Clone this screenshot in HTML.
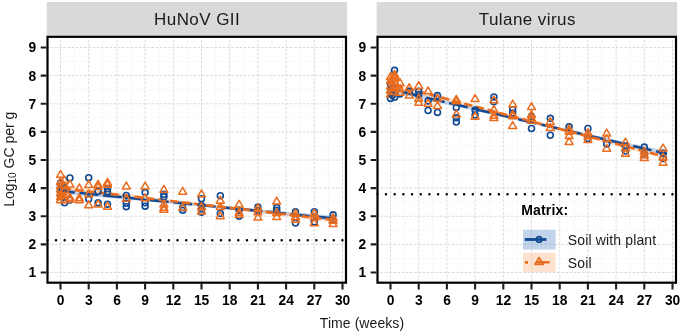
<!DOCTYPE html><html><head><meta charset="utf-8"><style>html,body{margin:0;padding:0;background:#fff;}svg{display:block;will-change:transform;} text{font-family:"Liberation Sans",sans-serif;}</style></head><body>
<svg width="685" height="333" viewBox="0 0 685 333">
<rect x="0" y="0" width="685" height="333" fill="#fff"/>
<rect x="46.70" y="2.0" width="300.40" height="33.70" fill="#D9D9D9"/>
<text x="154.10" y="24.8" font-size="17" letter-spacing="0.42" fill="#1A1A1A">HuNoV GII</text>
<rect x="46.40" y="35.70" width="300.70" height="248.10" fill="#fff"/>
<clipPath id="cp0"><rect x="46.40" y="35.70" width="300.70" height="248.10"/></clipPath>
<g clip-path="url(#cp0)">
<path d="M74.60 35.70V283.80M102.80 35.70V283.80M131.00 35.70V283.80M159.20 35.70V283.80M187.40 35.70V283.80M215.60 35.70V283.80M243.80 35.70V283.80M272.00 35.70V283.80M300.20 35.70V283.80M328.40 35.70V283.80M46.40 258.44H347.10M46.40 230.31H347.10M46.40 202.19H347.10M46.40 174.06H347.10M46.40 145.94H347.10M46.40 117.81H347.10M46.40 89.69H347.10M46.40 61.56H347.10" stroke="#F4F4F4" stroke-width="0.9" stroke-dasharray="2.6 1.6" fill="none"/>
<path d="M60.50 35.70V283.80M88.70 35.70V283.80M116.90 35.70V283.80M145.10 35.70V283.80M173.30 35.70V283.80M201.50 35.70V283.80M229.70 35.70V283.80M257.90 35.70V283.80M286.10 35.70V283.80M314.30 35.70V283.80M342.50 35.70V283.80M46.40 272.50H347.10M46.40 244.38H347.10M46.40 216.25H347.10M46.40 188.12H347.10M46.40 160.00H347.10M46.40 131.88H347.10M46.40 103.75H347.10M46.40 75.62H347.10M46.40 47.50H347.10" stroke="#DADADA" stroke-width="1" stroke-dasharray="2.6 1.6" fill="none"/>
<path d="M46.40 240.20H347.10" stroke="#000" stroke-width="2.5" stroke-dasharray="0 8.68" stroke-dashoffset="7.76" stroke-linecap="round" fill="none"/>
<path d="M60.50 188.02L69.68 189.13L78.86 190.23L88.04 191.32L97.22 192.39L106.40 193.45L115.58 194.50L124.76 195.53L133.95 196.55L143.13 197.56L152.31 198.56L161.49 199.55L170.67 200.52L179.85 201.48L189.03 202.43L198.21 203.36L207.39 204.29L216.57 205.20L225.75 206.10L234.93 206.98L244.11 207.85L253.29 208.72L262.47 209.56L271.66 210.40L280.84 211.22L290.02 212.03L299.20 212.83L308.38 213.62L317.56 214.39L326.74 215.15L335.92 215.90L335.92 221.50L326.74 220.41L317.56 219.32L308.38 218.25L299.20 217.19L290.02 216.15L280.84 215.11L271.66 214.09L262.47 213.08L253.29 212.08L244.11 211.10L234.93 210.13L225.75 209.17L216.57 208.22L207.39 207.29L198.21 206.36L189.03 205.45L179.85 204.56L170.67 203.67L161.49 202.80L152.31 201.94L143.13 201.09L133.95 200.26L124.76 199.43L115.58 198.62L106.40 197.83L97.22 197.04L88.04 196.27L78.86 195.51L69.68 194.76L60.50 194.02Z" fill="rgba(120,160,210,0.45)"/>
<path d="M60.50 185.19L69.68 186.45L78.86 187.69L88.04 188.91L97.22 190.13L106.40 191.33L115.58 192.52L124.76 193.70L133.95 194.86L143.13 196.01L152.31 197.15L161.49 198.28L170.67 199.40L179.85 200.50L189.03 201.59L198.21 202.67L207.39 203.73L216.57 204.79L225.75 205.83L234.93 206.86L244.11 207.87L253.29 208.87L262.47 209.86L271.66 210.84L280.84 211.81L290.02 212.76L299.20 213.70L308.38 214.63L317.56 215.55L326.74 216.45L335.92 217.34L335.92 222.94L326.74 221.70L317.56 220.48L308.38 219.26L299.20 218.06L290.02 216.87L280.84 215.70L271.66 214.53L262.47 213.38L253.29 212.24L244.11 211.12L234.93 210.00L225.75 208.90L216.57 207.81L207.39 206.73L198.21 205.67L189.03 204.62L179.85 203.58L170.67 202.55L161.49 201.53L152.31 200.53L143.13 199.54L133.95 198.57L124.76 197.60L115.58 196.65L106.40 195.71L97.22 194.78L88.04 193.86L78.86 192.96L69.68 192.07L60.50 191.19Z" fill="rgba(250,190,150,0.45)"/>
<path d="M60.50 191.02L335.92 218.70" stroke="#114A93" stroke-width="2.6" stroke-dasharray="16.7 6.9" stroke-dashoffset="3.5" stroke-linecap="round" fill="none"/>
<path d="M60.50 188.19L335.92 220.14" stroke="#EA6C1E" stroke-width="2.6" stroke-dasharray="6 6" stroke-dashoffset="8.5" stroke-linecap="round" fill="none"/>
<circle cx="60.50" cy="183.06" r="2.95" stroke="#114A93" stroke-width="1.6" fill="none"/>
<circle cx="60.50" cy="186.72" r="2.95" stroke="#114A93" stroke-width="1.6" fill="none"/>
<circle cx="60.50" cy="190.38" r="2.95" stroke="#114A93" stroke-width="1.6" fill="none"/>
<circle cx="60.50" cy="195.16" r="2.95" stroke="#114A93" stroke-width="1.6" fill="none"/>
<path d="M60.50 170.47L64.47 177.36L56.53 177.36Z" stroke="#EA6C1E" stroke-width="1.5" fill="none" stroke-linejoin="round"/>
<path d="M60.50 177.51L64.47 184.39L56.53 184.39Z" stroke="#EA6C1E" stroke-width="1.5" fill="none" stroke-linejoin="round"/>
<path d="M60.50 181.72L64.47 188.61L56.53 188.61Z" stroke="#EA6C1E" stroke-width="1.5" fill="none" stroke-linejoin="round"/>
<path d="M60.50 185.10L64.47 191.98L56.53 191.98Z" stroke="#EA6C1E" stroke-width="1.5" fill="none" stroke-linejoin="round"/>
<path d="M60.50 188.76L64.47 195.64L56.53 195.64Z" stroke="#EA6C1E" stroke-width="1.5" fill="none" stroke-linejoin="round"/>
<path d="M60.50 192.97L64.47 199.86L56.53 199.86Z" stroke="#EA6C1E" stroke-width="1.5" fill="none" stroke-linejoin="round"/>
<path d="M60.50 195.79L64.47 202.67L56.53 202.67Z" stroke="#EA6C1E" stroke-width="1.5" fill="none" stroke-linejoin="round"/>
<circle cx="62.38" cy="189.53" r="2.95" stroke="#114A93" stroke-width="1.6" fill="none"/>
<path d="M62.38 180.32L66.35 187.20L58.41 187.20Z" stroke="#EA6C1E" stroke-width="1.5" fill="none" stroke-linejoin="round"/>
<path d="M62.38 187.35L66.35 194.23L58.41 194.23Z" stroke="#EA6C1E" stroke-width="1.5" fill="none" stroke-linejoin="round"/>
<path d="M62.38 191.57L66.35 198.45L58.41 198.45Z" stroke="#EA6C1E" stroke-width="1.5" fill="none" stroke-linejoin="round"/>
<circle cx="64.54" cy="188.12" r="2.95" stroke="#114A93" stroke-width="1.6" fill="none"/>
<circle cx="64.54" cy="202.75" r="2.95" stroke="#114A93" stroke-width="1.6" fill="none"/>
<path d="M64.54 176.10L68.52 182.98L60.57 182.98Z" stroke="#EA6C1E" stroke-width="1.5" fill="none" stroke-linejoin="round"/>
<path d="M64.54 181.72L68.52 188.61L60.57 188.61Z" stroke="#EA6C1E" stroke-width="1.5" fill="none" stroke-linejoin="round"/>
<path d="M64.54 185.94L68.52 192.83L60.57 192.83Z" stroke="#EA6C1E" stroke-width="1.5" fill="none" stroke-linejoin="round"/>
<path d="M64.54 191.57L68.52 198.45L60.57 198.45Z" stroke="#EA6C1E" stroke-width="1.5" fill="none" stroke-linejoin="round"/>
<path d="M64.54 195.79L68.52 202.67L60.57 202.67Z" stroke="#EA6C1E" stroke-width="1.5" fill="none" stroke-linejoin="round"/>
<circle cx="69.90" cy="178.00" r="2.95" stroke="#114A93" stroke-width="1.6" fill="none"/>
<circle cx="69.90" cy="199.94" r="2.95" stroke="#114A93" stroke-width="1.6" fill="none"/>
<path d="M69.90 180.04L73.87 186.92L65.93 186.92Z" stroke="#EA6C1E" stroke-width="1.5" fill="none" stroke-linejoin="round"/>
<path d="M69.90 193.26L73.87 200.14L65.93 200.14Z" stroke="#EA6C1E" stroke-width="1.5" fill="none" stroke-linejoin="round"/>
<path d="M69.90 195.22L73.87 202.11L65.93 202.11Z" stroke="#EA6C1E" stroke-width="1.5" fill="none" stroke-linejoin="round"/>
<path d="M79.30 183.97L83.27 190.86L75.33 190.86Z" stroke="#EA6C1E" stroke-width="1.5" fill="none" stroke-linejoin="round"/>
<path d="M79.30 193.82L83.27 200.70L75.33 200.70Z" stroke="#EA6C1E" stroke-width="1.5" fill="none" stroke-linejoin="round"/>
<path d="M79.30 195.79L83.27 202.67L75.33 202.67Z" stroke="#EA6C1E" stroke-width="1.5" fill="none" stroke-linejoin="round"/>
<circle cx="88.70" cy="177.72" r="2.95" stroke="#114A93" stroke-width="1.6" fill="none"/>
<circle cx="88.70" cy="199.09" r="2.95" stroke="#114A93" stroke-width="1.6" fill="none"/>
<path d="M88.70 180.60L92.67 187.48L84.73 187.48Z" stroke="#EA6C1E" stroke-width="1.5" fill="none" stroke-linejoin="round"/>
<path d="M88.70 190.16L92.67 197.04L84.73 197.04Z" stroke="#EA6C1E" stroke-width="1.5" fill="none" stroke-linejoin="round"/>
<path d="M88.70 200.85L92.67 207.73L84.73 207.73Z" stroke="#EA6C1E" stroke-width="1.5" fill="none" stroke-linejoin="round"/>
<circle cx="98.10" cy="191.50" r="2.95" stroke="#114A93" stroke-width="1.6" fill="none"/>
<circle cx="98.10" cy="202.75" r="2.95" stroke="#114A93" stroke-width="1.6" fill="none"/>
<path d="M98.10 180.32L102.07 187.20L94.13 187.20Z" stroke="#EA6C1E" stroke-width="1.5" fill="none" stroke-linejoin="round"/>
<path d="M98.10 182.57L102.07 189.45L94.13 189.45Z" stroke="#EA6C1E" stroke-width="1.5" fill="none" stroke-linejoin="round"/>
<path d="M98.10 200.01L102.07 206.89L94.13 206.89Z" stroke="#EA6C1E" stroke-width="1.5" fill="none" stroke-linejoin="round"/>
<circle cx="107.50" cy="188.69" r="2.95" stroke="#114A93" stroke-width="1.6" fill="none"/>
<circle cx="107.50" cy="191.78" r="2.95" stroke="#114A93" stroke-width="1.6" fill="none"/>
<circle cx="107.50" cy="204.16" r="2.95" stroke="#114A93" stroke-width="1.6" fill="none"/>
<path d="M107.50 178.35L111.47 185.23L103.53 185.23Z" stroke="#EA6C1E" stroke-width="1.5" fill="none" stroke-linejoin="round"/>
<path d="M107.50 180.32L111.47 187.20L103.53 187.20Z" stroke="#EA6C1E" stroke-width="1.5" fill="none" stroke-linejoin="round"/>
<path d="M107.50 202.26L111.47 209.14L103.53 209.14Z" stroke="#EA6C1E" stroke-width="1.5" fill="none" stroke-linejoin="round"/>
<circle cx="126.30" cy="195.44" r="2.95" stroke="#114A93" stroke-width="1.6" fill="none"/>
<circle cx="126.30" cy="203.31" r="2.95" stroke="#114A93" stroke-width="1.6" fill="none"/>
<circle cx="126.30" cy="206.69" r="2.95" stroke="#114A93" stroke-width="1.6" fill="none"/>
<path d="M126.30 182.01L130.27 188.89L122.33 188.89Z" stroke="#EA6C1E" stroke-width="1.5" fill="none" stroke-linejoin="round"/>
<path d="M126.30 194.38L130.27 201.26L122.33 201.26Z" stroke="#EA6C1E" stroke-width="1.5" fill="none" stroke-linejoin="round"/>
<circle cx="145.10" cy="192.62" r="2.95" stroke="#114A93" stroke-width="1.6" fill="none"/>
<circle cx="145.10" cy="202.75" r="2.95" stroke="#114A93" stroke-width="1.6" fill="none"/>
<circle cx="145.10" cy="206.13" r="2.95" stroke="#114A93" stroke-width="1.6" fill="none"/>
<path d="M145.10 182.01L149.07 188.89L141.13 188.89Z" stroke="#EA6C1E" stroke-width="1.5" fill="none" stroke-linejoin="round"/>
<path d="M145.10 193.82L149.07 200.70L141.13 200.70Z" stroke="#EA6C1E" stroke-width="1.5" fill="none" stroke-linejoin="round"/>
<circle cx="163.90" cy="194.31" r="2.95" stroke="#114A93" stroke-width="1.6" fill="none"/>
<circle cx="163.90" cy="196.84" r="2.95" stroke="#114A93" stroke-width="1.6" fill="none"/>
<path d="M163.90 185.38L167.87 192.26L159.93 192.26Z" stroke="#EA6C1E" stroke-width="1.5" fill="none" stroke-linejoin="round"/>
<path d="M163.90 200.01L167.87 206.89L159.93 206.89Z" stroke="#EA6C1E" stroke-width="1.5" fill="none" stroke-linejoin="round"/>
<path d="M163.90 203.38L167.87 210.26L159.93 210.26Z" stroke="#EA6C1E" stroke-width="1.5" fill="none" stroke-linejoin="round"/>
<path d="M163.90 205.35L167.87 212.23L159.93 212.23Z" stroke="#EA6C1E" stroke-width="1.5" fill="none" stroke-linejoin="round"/>
<circle cx="182.70" cy="210.34" r="2.95" stroke="#114A93" stroke-width="1.6" fill="none"/>
<circle cx="182.70" cy="207.81" r="2.95" stroke="#114A93" stroke-width="1.6" fill="none"/>
<path d="M182.70 187.35L186.67 194.23L178.73 194.23Z" stroke="#EA6C1E" stroke-width="1.5" fill="none" stroke-linejoin="round"/>
<path d="M182.70 203.38L186.67 210.26L178.73 210.26Z" stroke="#EA6C1E" stroke-width="1.5" fill="none" stroke-linejoin="round"/>
<circle cx="201.50" cy="198.81" r="2.95" stroke="#114A93" stroke-width="1.6" fill="none"/>
<circle cx="201.50" cy="205.56" r="2.95" stroke="#114A93" stroke-width="1.6" fill="none"/>
<circle cx="201.50" cy="208.94" r="2.95" stroke="#114A93" stroke-width="1.6" fill="none"/>
<circle cx="201.50" cy="212.31" r="2.95" stroke="#114A93" stroke-width="1.6" fill="none"/>
<path d="M201.50 189.88L205.47 196.76L197.53 196.76Z" stroke="#EA6C1E" stroke-width="1.5" fill="none" stroke-linejoin="round"/>
<path d="M201.50 202.54L205.47 209.42L197.53 209.42Z" stroke="#EA6C1E" stroke-width="1.5" fill="none" stroke-linejoin="round"/>
<path d="M201.50 207.04L205.47 213.92L197.53 213.92Z" stroke="#EA6C1E" stroke-width="1.5" fill="none" stroke-linejoin="round"/>
<circle cx="220.30" cy="195.72" r="2.95" stroke="#114A93" stroke-width="1.6" fill="none"/>
<circle cx="220.30" cy="213.44" r="2.95" stroke="#114A93" stroke-width="1.6" fill="none"/>
<path d="M220.30 196.35L224.27 203.23L216.33 203.23Z" stroke="#EA6C1E" stroke-width="1.5" fill="none" stroke-linejoin="round"/>
<path d="M220.30 202.54L224.27 209.42L216.33 209.42Z" stroke="#EA6C1E" stroke-width="1.5" fill="none" stroke-linejoin="round"/>
<path d="M220.30 211.82L224.27 218.70L216.33 218.70Z" stroke="#EA6C1E" stroke-width="1.5" fill="none" stroke-linejoin="round"/>
<circle cx="239.10" cy="210.06" r="2.95" stroke="#114A93" stroke-width="1.6" fill="none"/>
<circle cx="239.10" cy="216.25" r="2.95" stroke="#114A93" stroke-width="1.6" fill="none"/>
<path d="M239.10 200.29L243.07 207.17L235.13 207.17Z" stroke="#EA6C1E" stroke-width="1.5" fill="none" stroke-linejoin="round"/>
<path d="M239.10 208.44L243.07 215.33L235.13 215.33Z" stroke="#EA6C1E" stroke-width="1.5" fill="none" stroke-linejoin="round"/>
<path d="M239.10 210.41L243.07 217.29L235.13 217.29Z" stroke="#EA6C1E" stroke-width="1.5" fill="none" stroke-linejoin="round"/>
<circle cx="257.90" cy="206.97" r="2.95" stroke="#114A93" stroke-width="1.6" fill="none"/>
<circle cx="257.90" cy="210.62" r="2.95" stroke="#114A93" stroke-width="1.6" fill="none"/>
<path d="M257.90 203.94L261.87 210.83L253.93 210.83Z" stroke="#EA6C1E" stroke-width="1.5" fill="none" stroke-linejoin="round"/>
<path d="M257.90 207.88L261.87 214.76L253.93 214.76Z" stroke="#EA6C1E" stroke-width="1.5" fill="none" stroke-linejoin="round"/>
<path d="M257.90 213.22L261.87 220.11L253.93 220.11Z" stroke="#EA6C1E" stroke-width="1.5" fill="none" stroke-linejoin="round"/>
<circle cx="276.70" cy="207.53" r="2.95" stroke="#114A93" stroke-width="1.6" fill="none"/>
<circle cx="276.70" cy="210.34" r="2.95" stroke="#114A93" stroke-width="1.6" fill="none"/>
<path d="M276.70 197.19L280.67 204.08L272.73 204.08Z" stroke="#EA6C1E" stroke-width="1.5" fill="none" stroke-linejoin="round"/>
<path d="M276.70 208.72L280.67 215.61L272.73 215.61Z" stroke="#EA6C1E" stroke-width="1.5" fill="none" stroke-linejoin="round"/>
<path d="M276.70 212.66L280.67 219.54L272.73 219.54Z" stroke="#EA6C1E" stroke-width="1.5" fill="none" stroke-linejoin="round"/>
<circle cx="295.50" cy="211.75" r="2.95" stroke="#114A93" stroke-width="1.6" fill="none"/>
<circle cx="295.50" cy="223.00" r="2.95" stroke="#114A93" stroke-width="1.6" fill="none"/>
<path d="M295.50 209.29L299.47 216.17L291.53 216.17Z" stroke="#EA6C1E" stroke-width="1.5" fill="none" stroke-linejoin="round"/>
<path d="M295.50 212.66L299.47 219.54L291.53 219.54Z" stroke="#EA6C1E" stroke-width="1.5" fill="none" stroke-linejoin="round"/>
<path d="M295.50 215.47L299.47 222.36L291.53 222.36Z" stroke="#EA6C1E" stroke-width="1.5" fill="none" stroke-linejoin="round"/>
<circle cx="314.30" cy="211.75" r="2.95" stroke="#114A93" stroke-width="1.6" fill="none"/>
<circle cx="314.30" cy="221.88" r="2.95" stroke="#114A93" stroke-width="1.6" fill="none"/>
<path d="M314.30 209.29L318.27 216.17L310.33 216.17Z" stroke="#EA6C1E" stroke-width="1.5" fill="none" stroke-linejoin="round"/>
<path d="M314.30 213.22L318.27 220.11L310.33 220.11Z" stroke="#EA6C1E" stroke-width="1.5" fill="none" stroke-linejoin="round"/>
<path d="M314.30 218.85L318.27 225.73L310.33 225.73Z" stroke="#EA6C1E" stroke-width="1.5" fill="none" stroke-linejoin="round"/>
<circle cx="333.10" cy="214.84" r="2.95" stroke="#114A93" stroke-width="1.6" fill="none"/>
<circle cx="333.10" cy="220.19" r="2.95" stroke="#114A93" stroke-width="1.6" fill="none"/>
<path d="M333.10 213.51L337.07 220.39L329.13 220.39Z" stroke="#EA6C1E" stroke-width="1.5" fill="none" stroke-linejoin="round"/>
<path d="M333.10 216.32L337.07 223.20L329.13 223.20Z" stroke="#EA6C1E" stroke-width="1.5" fill="none" stroke-linejoin="round"/>
<path d="M333.10 219.69L337.07 226.58L329.13 226.58Z" stroke="#EA6C1E" stroke-width="1.5" fill="none" stroke-linejoin="round"/>
</g>
<rect x="47.50" y="36.80" width="298.50" height="245.90" fill="none" stroke="#000" stroke-width="2.2"/>
<path d="M40.70 272.50H46.40M40.70 244.38H46.40M40.70 216.25H46.40M40.70 188.12H46.40M40.70 160.00H46.40M40.70 131.88H46.40M40.70 103.75H46.40M40.70 75.62H46.40M40.70 47.50H46.40M60.50 283.80V289.60M88.70 283.80V289.60M116.90 283.80V289.60M145.10 283.80V289.60M173.30 283.80V289.60M201.50 283.80V289.60M229.70 283.80V289.60M257.90 283.80V289.60M286.10 283.80V289.60M314.30 283.80V289.60M342.50 283.80V289.60" stroke="#1E1E1E" stroke-width="2.1" fill="none"/>
<text x="36.20" y="277.40" font-size="13.8" font-weight="bold" fill="#000" text-anchor="end">1</text>
<text x="36.20" y="249.28" font-size="13.8" font-weight="bold" fill="#000" text-anchor="end">2</text>
<text x="36.20" y="221.15" font-size="13.8" font-weight="bold" fill="#000" text-anchor="end">3</text>
<text x="36.20" y="193.03" font-size="13.8" font-weight="bold" fill="#000" text-anchor="end">4</text>
<text x="36.20" y="164.90" font-size="13.8" font-weight="bold" fill="#000" text-anchor="end">5</text>
<text x="36.20" y="136.78" font-size="13.8" font-weight="bold" fill="#000" text-anchor="end">6</text>
<text x="36.20" y="108.65" font-size="13.8" font-weight="bold" fill="#000" text-anchor="end">7</text>
<text x="36.20" y="80.53" font-size="13.8" font-weight="bold" fill="#000" text-anchor="end">8</text>
<text x="36.20" y="52.40" font-size="13.8" font-weight="bold" fill="#000" text-anchor="end">9</text>
<text x="60.60" y="304.90" font-size="13.8" font-weight="bold" fill="#000" text-anchor="middle">0</text>
<text x="88.80" y="304.90" font-size="13.8" font-weight="bold" fill="#000" text-anchor="middle">3</text>
<text x="117.00" y="304.90" font-size="13.8" font-weight="bold" fill="#000" text-anchor="middle">6</text>
<text x="145.20" y="304.90" font-size="13.8" font-weight="bold" fill="#000" text-anchor="middle">9</text>
<text x="173.40" y="304.90" font-size="13.8" font-weight="bold" fill="#000" text-anchor="middle">12</text>
<text x="201.60" y="304.90" font-size="13.8" font-weight="bold" fill="#000" text-anchor="middle">15</text>
<text x="229.80" y="304.90" font-size="13.8" font-weight="bold" fill="#000" text-anchor="middle">18</text>
<text x="258.00" y="304.90" font-size="13.8" font-weight="bold" fill="#000" text-anchor="middle">21</text>
<text x="286.20" y="304.90" font-size="13.8" font-weight="bold" fill="#000" text-anchor="middle">24</text>
<text x="314.40" y="304.90" font-size="13.8" font-weight="bold" fill="#000" text-anchor="middle">27</text>
<text x="342.60" y="304.90" font-size="13.8" font-weight="bold" fill="#000" text-anchor="middle">30</text>
<rect x="376.70" y="2.0" width="300.40" height="33.70" fill="#D9D9D9"/>
<text x="478.80" y="24.8" font-size="17" letter-spacing="0.42" fill="#1A1A1A">Tulane virus</text>
<rect x="376.40" y="35.70" width="300.70" height="248.10" fill="#fff"/>
<clipPath id="cp1"><rect x="376.40" y="35.70" width="300.70" height="248.10"/></clipPath>
<g clip-path="url(#cp1)">
<path d="M404.60 35.70V283.80M432.80 35.70V283.80M461.00 35.70V283.80M489.20 35.70V283.80M517.40 35.70V283.80M545.60 35.70V283.80M573.80 35.70V283.80M602.00 35.70V283.80M630.20 35.70V283.80M658.40 35.70V283.80M376.40 258.44H677.10M376.40 230.31H677.10M376.40 202.19H677.10M376.40 174.06H677.10M376.40 145.94H677.10M376.40 117.81H677.10M376.40 89.69H677.10M376.40 61.56H677.10" stroke="#F4F4F4" stroke-width="0.9" stroke-dasharray="2.6 1.6" fill="none"/>
<path d="M390.50 35.70V283.80M418.70 35.70V283.80M446.90 35.70V283.80M475.10 35.70V283.80M503.30 35.70V283.80M531.50 35.70V283.80M559.70 35.70V283.80M587.90 35.70V283.80M616.10 35.70V283.80M644.30 35.70V283.80M672.50 35.70V283.80M376.40 272.50H677.10M376.40 244.38H677.10M376.40 216.25H677.10M376.40 188.12H677.10M376.40 160.00H677.10M376.40 131.88H677.10M376.40 103.75H677.10M376.40 75.62H677.10M376.40 47.50H677.10" stroke="#DADADA" stroke-width="1" stroke-dasharray="2.6 1.6" fill="none"/>
<path d="M376.40 194.20H677.10" stroke="#000" stroke-width="2.5" stroke-dasharray="0 8.68" stroke-dashoffset="7.76" stroke-linecap="round" fill="none"/>
<path d="M390.50 86.34L399.68 88.67L408.86 90.99L418.04 93.29L427.22 95.59L436.40 97.87L445.58 100.14L454.76 102.39L463.95 104.63L473.13 106.86L482.31 109.08L491.49 111.29L500.67 113.48L509.85 115.66L519.03 117.83L528.21 119.98L537.39 122.13L546.57 124.26L555.75 126.38L564.93 128.48L574.11 130.58L583.29 132.66L592.47 134.73L601.66 136.78L610.84 138.83L620.02 140.86L629.20 142.88L638.38 144.88L647.56 146.88L656.74 148.86L665.92 150.83L665.92 156.43L656.74 154.11L647.56 151.81L638.38 149.51L629.20 147.23L620.02 144.97L610.84 142.71L601.66 140.47L592.47 138.24L583.29 136.02L574.11 133.82L564.93 131.63L555.75 129.45L546.57 127.28L537.39 125.13L528.21 122.98L519.03 120.85L509.85 118.74L500.67 116.63L491.49 114.54L482.31 112.46L473.13 110.39L463.95 108.34L454.76 106.29L445.58 104.26L436.40 102.25L427.22 100.24L418.04 98.25L408.86 96.27L399.68 94.30L390.50 92.34Z" fill="rgba(120,160,210,0.45)"/>
<path d="M390.50 81.11L399.68 83.73L408.86 86.33L418.04 88.93L427.22 91.51L436.40 94.07L445.58 96.63L454.76 99.17L463.95 101.70L473.13 104.21L482.31 106.72L491.49 109.21L500.67 111.69L509.85 114.16L519.03 116.61L528.21 119.05L537.39 121.48L546.57 123.90L555.75 126.30L564.93 128.70L574.11 131.08L583.29 133.44L592.47 135.80L601.66 138.14L610.84 140.47L620.02 142.79L629.20 145.09L638.38 147.39L647.56 149.67L656.74 151.94L665.92 154.19L665.92 159.79L656.74 157.19L647.56 154.60L638.38 152.02L629.20 149.45L620.02 146.90L610.84 144.36L601.66 141.83L592.47 139.32L583.29 136.81L574.11 134.32L564.93 131.84L555.75 129.38L546.57 126.92L537.39 124.48L528.21 122.05L519.03 119.64L509.85 117.23L500.67 114.84L491.49 112.46L482.31 110.10L473.13 107.74L463.95 105.40L454.76 103.07L445.58 100.75L436.40 98.45L427.22 96.16L418.04 93.88L408.86 91.61L399.68 89.36L390.50 87.11Z" fill="rgba(250,190,150,0.45)"/>
<path d="M390.50 89.34L665.92 153.63" stroke="#114A93" stroke-width="2.6" stroke-dasharray="16.7 6.9" stroke-dashoffset="9.4" stroke-linecap="round" fill="none"/>
<path d="M390.50 84.11L665.92 156.99" stroke="#EA6C1E" stroke-width="2.6" stroke-dasharray="6 6" stroke-dashoffset="6.5" stroke-linecap="round" fill="none"/>
<circle cx="390.50" cy="84.62" r="2.95" stroke="#114A93" stroke-width="1.6" fill="none"/>
<circle cx="390.50" cy="91.09" r="2.95" stroke="#114A93" stroke-width="1.6" fill="none"/>
<circle cx="390.50" cy="98.41" r="2.95" stroke="#114A93" stroke-width="1.6" fill="none"/>
<path d="M390.50 72.60L394.47 79.48L386.53 79.48Z" stroke="#EA6C1E" stroke-width="1.5" fill="none" stroke-linejoin="round"/>
<path d="M390.50 76.26L394.47 83.14L386.53 83.14Z" stroke="#EA6C1E" stroke-width="1.5" fill="none" stroke-linejoin="round"/>
<path d="M390.50 81.88L394.47 88.76L386.53 88.76Z" stroke="#EA6C1E" stroke-width="1.5" fill="none" stroke-linejoin="round"/>
<path d="M390.50 86.10L394.47 92.98L386.53 92.98Z" stroke="#EA6C1E" stroke-width="1.5" fill="none" stroke-linejoin="round"/>
<path d="M390.50 90.04L394.47 96.92L386.53 96.92Z" stroke="#EA6C1E" stroke-width="1.5" fill="none" stroke-linejoin="round"/>
<circle cx="392.38" cy="88.28" r="2.95" stroke="#114A93" stroke-width="1.6" fill="none"/>
<circle cx="392.38" cy="95.31" r="2.95" stroke="#114A93" stroke-width="1.6" fill="none"/>
<path d="M392.38 74.85L396.35 81.73L388.41 81.73Z" stroke="#EA6C1E" stroke-width="1.5" fill="none" stroke-linejoin="round"/>
<path d="M392.38 83.29L396.35 90.17L388.41 90.17Z" stroke="#EA6C1E" stroke-width="1.5" fill="none" stroke-linejoin="round"/>
<path d="M392.38 87.51L396.35 94.39L388.41 94.39Z" stroke="#EA6C1E" stroke-width="1.5" fill="none" stroke-linejoin="round"/>
<circle cx="394.54" cy="70.28" r="2.95" stroke="#114A93" stroke-width="1.6" fill="none"/>
<circle cx="394.54" cy="97.28" r="2.95" stroke="#114A93" stroke-width="1.6" fill="none"/>
<path d="M394.54 70.35L398.52 77.23L390.57 77.23Z" stroke="#EA6C1E" stroke-width="1.5" fill="none" stroke-linejoin="round"/>
<path d="M394.54 72.04L398.52 78.92L390.57 78.92Z" stroke="#EA6C1E" stroke-width="1.5" fill="none" stroke-linejoin="round"/>
<path d="M394.54 74.01L398.52 80.89L390.57 80.89Z" stroke="#EA6C1E" stroke-width="1.5" fill="none" stroke-linejoin="round"/>
<path d="M394.54 77.66L398.52 84.54L390.57 84.54Z" stroke="#EA6C1E" stroke-width="1.5" fill="none" stroke-linejoin="round"/>
<path d="M394.54 83.29L398.52 90.17L390.57 90.17Z" stroke="#EA6C1E" stroke-width="1.5" fill="none" stroke-linejoin="round"/>
<path d="M394.54 87.51L398.52 94.39L390.57 94.39Z" stroke="#EA6C1E" stroke-width="1.5" fill="none" stroke-linejoin="round"/>
<circle cx="399.90" cy="93.91" r="2.95" stroke="#114A93" stroke-width="1.6" fill="none"/>
<path d="M399.90 78.51L403.87 85.39L395.93 85.39Z" stroke="#EA6C1E" stroke-width="1.5" fill="none" stroke-linejoin="round"/>
<path d="M399.90 84.69L403.87 91.58L395.93 91.58Z" stroke="#EA6C1E" stroke-width="1.5" fill="none" stroke-linejoin="round"/>
<path d="M399.90 88.35L403.87 95.23L395.93 95.23Z" stroke="#EA6C1E" stroke-width="1.5" fill="none" stroke-linejoin="round"/>
<circle cx="409.30" cy="91.37" r="2.95" stroke="#114A93" stroke-width="1.6" fill="none"/>
<path d="M409.30 83.71L413.27 90.59L405.33 90.59Z" stroke="#EA6C1E" stroke-width="1.5" fill="none" stroke-linejoin="round"/>
<path d="M409.30 91.16L413.27 98.04L405.33 98.04Z" stroke="#EA6C1E" stroke-width="1.5" fill="none" stroke-linejoin="round"/>
<circle cx="418.70" cy="91.37" r="2.95" stroke="#114A93" stroke-width="1.6" fill="none"/>
<circle cx="418.70" cy="94.75" r="2.95" stroke="#114A93" stroke-width="1.6" fill="none"/>
<path d="M418.70 81.60L422.67 88.48L414.73 88.48Z" stroke="#EA6C1E" stroke-width="1.5" fill="none" stroke-linejoin="round"/>
<path d="M418.70 94.26L422.67 101.14L414.73 101.14Z" stroke="#EA6C1E" stroke-width="1.5" fill="none" stroke-linejoin="round"/>
<path d="M418.70 98.47L422.67 105.36L414.73 105.36Z" stroke="#EA6C1E" stroke-width="1.5" fill="none" stroke-linejoin="round"/>
<circle cx="428.10" cy="100.94" r="2.95" stroke="#114A93" stroke-width="1.6" fill="none"/>
<circle cx="428.10" cy="110.50" r="2.95" stroke="#114A93" stroke-width="1.6" fill="none"/>
<path d="M428.10 86.94L432.07 93.83L424.13 93.83Z" stroke="#EA6C1E" stroke-width="1.5" fill="none" stroke-linejoin="round"/>
<path d="M428.10 99.32L432.07 106.20L424.13 106.20Z" stroke="#EA6C1E" stroke-width="1.5" fill="none" stroke-linejoin="round"/>
<circle cx="437.50" cy="95.59" r="2.95" stroke="#114A93" stroke-width="1.6" fill="none"/>
<circle cx="437.50" cy="112.47" r="2.95" stroke="#114A93" stroke-width="1.6" fill="none"/>
<path d="M437.50 94.26L441.47 101.14L433.53 101.14Z" stroke="#EA6C1E" stroke-width="1.5" fill="none" stroke-linejoin="round"/>
<path d="M437.50 101.57L441.47 108.45L433.53 108.45Z" stroke="#EA6C1E" stroke-width="1.5" fill="none" stroke-linejoin="round"/>
<circle cx="456.30" cy="107.41" r="2.95" stroke="#114A93" stroke-width="1.6" fill="none"/>
<circle cx="456.30" cy="117.81" r="2.95" stroke="#114A93" stroke-width="1.6" fill="none"/>
<circle cx="456.30" cy="122.03" r="2.95" stroke="#114A93" stroke-width="1.6" fill="none"/>
<path d="M456.30 95.38L460.27 102.26L452.33 102.26Z" stroke="#EA6C1E" stroke-width="1.5" fill="none" stroke-linejoin="round"/>
<path d="M456.30 96.79L460.27 103.67L452.33 103.67Z" stroke="#EA6C1E" stroke-width="1.5" fill="none" stroke-linejoin="round"/>
<path d="M456.30 110.01L460.27 116.89L452.33 116.89Z" stroke="#EA6C1E" stroke-width="1.5" fill="none" stroke-linejoin="round"/>
<circle cx="475.10" cy="109.94" r="2.95" stroke="#114A93" stroke-width="1.6" fill="none"/>
<circle cx="475.10" cy="115.00" r="2.95" stroke="#114A93" stroke-width="1.6" fill="none"/>
<path d="M475.10 94.54L479.07 101.42L471.13 101.42Z" stroke="#EA6C1E" stroke-width="1.5" fill="none" stroke-linejoin="round"/>
<path d="M475.10 112.26L479.07 119.14L471.13 119.14Z" stroke="#EA6C1E" stroke-width="1.5" fill="none" stroke-linejoin="round"/>
<circle cx="493.90" cy="97.00" r="2.95" stroke="#114A93" stroke-width="1.6" fill="none"/>
<circle cx="493.90" cy="101.78" r="2.95" stroke="#114A93" stroke-width="1.6" fill="none"/>
<path d="M493.90 95.94L497.87 102.83L489.93 102.83Z" stroke="#EA6C1E" stroke-width="1.5" fill="none" stroke-linejoin="round"/>
<path d="M493.90 105.51L497.87 112.39L489.93 112.39Z" stroke="#EA6C1E" stroke-width="1.5" fill="none" stroke-linejoin="round"/>
<path d="M493.90 111.41L497.87 118.29L489.93 118.29Z" stroke="#EA6C1E" stroke-width="1.5" fill="none" stroke-linejoin="round"/>
<path d="M493.90 113.66L497.87 120.54L489.93 120.54Z" stroke="#EA6C1E" stroke-width="1.5" fill="none" stroke-linejoin="round"/>
<circle cx="512.70" cy="109.66" r="2.95" stroke="#114A93" stroke-width="1.6" fill="none"/>
<circle cx="512.70" cy="113.03" r="2.95" stroke="#114A93" stroke-width="1.6" fill="none"/>
<path d="M512.70 100.16L516.67 107.04L508.73 107.04Z" stroke="#EA6C1E" stroke-width="1.5" fill="none" stroke-linejoin="round"/>
<path d="M512.70 110.01L516.67 116.89L508.73 116.89Z" stroke="#EA6C1E" stroke-width="1.5" fill="none" stroke-linejoin="round"/>
<path d="M512.70 111.97L516.67 118.86L508.73 118.86Z" stroke="#EA6C1E" stroke-width="1.5" fill="none" stroke-linejoin="round"/>
<path d="M512.70 121.54L516.67 128.42L508.73 128.42Z" stroke="#EA6C1E" stroke-width="1.5" fill="none" stroke-linejoin="round"/>
<circle cx="531.50" cy="128.50" r="2.95" stroke="#114A93" stroke-width="1.6" fill="none"/>
<circle cx="531.50" cy="116.41" r="2.95" stroke="#114A93" stroke-width="1.6" fill="none"/>
<path d="M531.50 102.69L535.47 109.58L527.53 109.58Z" stroke="#EA6C1E" stroke-width="1.5" fill="none" stroke-linejoin="round"/>
<path d="M531.50 110.57L535.47 117.45L527.53 117.45Z" stroke="#EA6C1E" stroke-width="1.5" fill="none" stroke-linejoin="round"/>
<path d="M531.50 114.22L535.47 121.11L527.53 121.11Z" stroke="#EA6C1E" stroke-width="1.5" fill="none" stroke-linejoin="round"/>
<path d="M531.50 116.47L535.47 123.36L527.53 123.36Z" stroke="#EA6C1E" stroke-width="1.5" fill="none" stroke-linejoin="round"/>
<circle cx="550.30" cy="118.37" r="2.95" stroke="#114A93" stroke-width="1.6" fill="none"/>
<circle cx="550.30" cy="135.25" r="2.95" stroke="#114A93" stroke-width="1.6" fill="none"/>
<path d="M550.30 117.60L554.27 124.48L546.33 124.48Z" stroke="#EA6C1E" stroke-width="1.5" fill="none" stroke-linejoin="round"/>
<path d="M550.30 123.51L554.27 130.39L546.33 130.39Z" stroke="#EA6C1E" stroke-width="1.5" fill="none" stroke-linejoin="round"/>
<circle cx="569.10" cy="126.81" r="2.95" stroke="#114A93" stroke-width="1.6" fill="none"/>
<path d="M569.10 124.91L573.07 131.79L565.13 131.79Z" stroke="#EA6C1E" stroke-width="1.5" fill="none" stroke-linejoin="round"/>
<path d="M569.10 127.44L573.07 134.33L565.13 134.33Z" stroke="#EA6C1E" stroke-width="1.5" fill="none" stroke-linejoin="round"/>
<path d="M569.10 131.66L573.07 138.54L565.13 138.54Z" stroke="#EA6C1E" stroke-width="1.5" fill="none" stroke-linejoin="round"/>
<path d="M569.10 137.57L573.07 144.45L565.13 144.45Z" stroke="#EA6C1E" stroke-width="1.5" fill="none" stroke-linejoin="round"/>
<circle cx="587.90" cy="128.50" r="2.95" stroke="#114A93" stroke-width="1.6" fill="none"/>
<circle cx="587.90" cy="138.62" r="2.95" stroke="#114A93" stroke-width="1.6" fill="none"/>
<path d="M587.90 128.57L591.87 135.45L583.93 135.45Z" stroke="#EA6C1E" stroke-width="1.5" fill="none" stroke-linejoin="round"/>
<path d="M587.90 131.94L591.87 138.83L583.93 138.83Z" stroke="#EA6C1E" stroke-width="1.5" fill="none" stroke-linejoin="round"/>
<path d="M587.90 135.60L591.87 142.48L583.93 142.48Z" stroke="#EA6C1E" stroke-width="1.5" fill="none" stroke-linejoin="round"/>
<circle cx="606.70" cy="143.97" r="2.95" stroke="#114A93" stroke-width="1.6" fill="none"/>
<path d="M606.70 129.13L610.67 136.01L602.73 136.01Z" stroke="#EA6C1E" stroke-width="1.5" fill="none" stroke-linejoin="round"/>
<path d="M606.70 134.47L610.67 141.36L602.73 141.36Z" stroke="#EA6C1E" stroke-width="1.5" fill="none" stroke-linejoin="round"/>
<path d="M606.70 144.32L610.67 151.20L602.73 151.20Z" stroke="#EA6C1E" stroke-width="1.5" fill="none" stroke-linejoin="round"/>
<circle cx="625.50" cy="145.94" r="2.95" stroke="#114A93" stroke-width="1.6" fill="none"/>
<circle cx="625.50" cy="151.00" r="2.95" stroke="#114A93" stroke-width="1.6" fill="none"/>
<path d="M625.50 138.13L629.47 145.01L621.53 145.01Z" stroke="#EA6C1E" stroke-width="1.5" fill="none" stroke-linejoin="round"/>
<path d="M625.50 143.76L629.47 150.64L621.53 150.64Z" stroke="#EA6C1E" stroke-width="1.5" fill="none" stroke-linejoin="round"/>
<path d="M625.50 149.38L629.47 156.26L621.53 156.26Z" stroke="#EA6C1E" stroke-width="1.5" fill="none" stroke-linejoin="round"/>
<circle cx="644.30" cy="147.06" r="2.95" stroke="#114A93" stroke-width="1.6" fill="none"/>
<circle cx="644.30" cy="154.38" r="2.95" stroke="#114A93" stroke-width="1.6" fill="none"/>
<path d="M644.30 147.13L648.27 154.01L640.33 154.01Z" stroke="#EA6C1E" stroke-width="1.5" fill="none" stroke-linejoin="round"/>
<path d="M644.30 150.79L648.27 157.67L640.33 157.67Z" stroke="#EA6C1E" stroke-width="1.5" fill="none" stroke-linejoin="round"/>
<path d="M644.30 153.60L648.27 160.48L640.33 160.48Z" stroke="#EA6C1E" stroke-width="1.5" fill="none" stroke-linejoin="round"/>
<circle cx="663.10" cy="152.97" r="2.95" stroke="#114A93" stroke-width="1.6" fill="none"/>
<circle cx="663.10" cy="158.59" r="2.95" stroke="#114A93" stroke-width="1.6" fill="none"/>
<path d="M663.10 144.04L667.07 150.92L659.13 150.92Z" stroke="#EA6C1E" stroke-width="1.5" fill="none" stroke-linejoin="round"/>
<path d="M663.10 153.04L667.07 159.92L659.13 159.92Z" stroke="#EA6C1E" stroke-width="1.5" fill="none" stroke-linejoin="round"/>
<path d="M663.10 158.38L667.07 165.26L659.13 165.26Z" stroke="#EA6C1E" stroke-width="1.5" fill="none" stroke-linejoin="round"/>
</g>
<rect x="377.50" y="36.80" width="298.50" height="245.90" fill="none" stroke="#000" stroke-width="2.2"/>
<path d="M370.70 272.50H376.40M370.70 244.38H376.40M370.70 216.25H376.40M370.70 188.12H376.40M370.70 160.00H376.40M370.70 131.88H376.40M370.70 103.75H376.40M370.70 75.62H376.40M370.70 47.50H376.40M390.50 283.80V289.60M418.70 283.80V289.60M446.90 283.80V289.60M475.10 283.80V289.60M503.30 283.80V289.60M531.50 283.80V289.60M559.70 283.80V289.60M587.90 283.80V289.60M616.10 283.80V289.60M644.30 283.80V289.60M672.50 283.80V289.60" stroke="#1E1E1E" stroke-width="2.1" fill="none"/>
<text x="366.20" y="277.40" font-size="13.8" font-weight="bold" fill="#000" text-anchor="end">1</text>
<text x="366.20" y="249.28" font-size="13.8" font-weight="bold" fill="#000" text-anchor="end">2</text>
<text x="366.20" y="221.15" font-size="13.8" font-weight="bold" fill="#000" text-anchor="end">3</text>
<text x="366.20" y="193.03" font-size="13.8" font-weight="bold" fill="#000" text-anchor="end">4</text>
<text x="366.20" y="164.90" font-size="13.8" font-weight="bold" fill="#000" text-anchor="end">5</text>
<text x="366.20" y="136.78" font-size="13.8" font-weight="bold" fill="#000" text-anchor="end">6</text>
<text x="366.20" y="108.65" font-size="13.8" font-weight="bold" fill="#000" text-anchor="end">7</text>
<text x="366.20" y="80.53" font-size="13.8" font-weight="bold" fill="#000" text-anchor="end">8</text>
<text x="366.20" y="52.40" font-size="13.8" font-weight="bold" fill="#000" text-anchor="end">9</text>
<text x="390.60" y="304.90" font-size="13.8" font-weight="bold" fill="#000" text-anchor="middle">0</text>
<text x="418.80" y="304.90" font-size="13.8" font-weight="bold" fill="#000" text-anchor="middle">3</text>
<text x="447.00" y="304.90" font-size="13.8" font-weight="bold" fill="#000" text-anchor="middle">6</text>
<text x="475.20" y="304.90" font-size="13.8" font-weight="bold" fill="#000" text-anchor="middle">9</text>
<text x="503.40" y="304.90" font-size="13.8" font-weight="bold" fill="#000" text-anchor="middle">12</text>
<text x="531.60" y="304.90" font-size="13.8" font-weight="bold" fill="#000" text-anchor="middle">15</text>
<text x="559.80" y="304.90" font-size="13.8" font-weight="bold" fill="#000" text-anchor="middle">18</text>
<text x="588.00" y="304.90" font-size="13.8" font-weight="bold" fill="#000" text-anchor="middle">21</text>
<text x="616.20" y="304.90" font-size="13.8" font-weight="bold" fill="#000" text-anchor="middle">24</text>
<text x="644.40" y="304.90" font-size="13.8" font-weight="bold" fill="#000" text-anchor="middle">27</text>
<text x="672.60" y="304.90" font-size="13.8" font-weight="bold" fill="#000" text-anchor="middle">30</text>
<text x="319.8" y="328.1" font-size="14" letter-spacing="0.07" fill="#1A1A1A">Time (weeks)</text>
<text transform="translate(14.2,206.8) rotate(-90)" font-size="14" fill="#1A1A1A">Log<tspan font-size="10" dy="2.2">10</tspan><tspan dy="-2.2"> GC per g</tspan></text>
<text x="521.3" y="215" font-size="14" letter-spacing="0.15" font-weight="bold" fill="#000">Matrix:</text>
<rect x="523" y="229.8" width="32.6" height="19.8" fill="rgba(120,160,210,0.45)"/>
<rect x="523" y="252.7" width="32.6" height="19.2" fill="rgba(250,190,150,0.45)"/>
<path d="M524.8 239.5H546.4" stroke="#114A93" stroke-width="2.8"/>
<circle cx="539.1" cy="239.4" r="2.8" stroke="#114A93" stroke-width="1.6" fill="none"/>
<path d="M525 262.4H528M536 262.3H549.6" stroke="#EA6C1E" stroke-width="2.6"/>
<path d="M539.1 257.6L543.2 264.3L535.0 264.3Z" stroke="#EA6C1E" stroke-width="1.8" stroke-linejoin="round" fill="none"/>
<text x="567.8" y="244.6" font-size="14" letter-spacing="0.14" fill="#1A1A1A">Soil with plant</text>
<text x="567.8" y="267.7" font-size="14" letter-spacing="0.14" fill="#1A1A1A">Soil</text>
</svg></body></html>
